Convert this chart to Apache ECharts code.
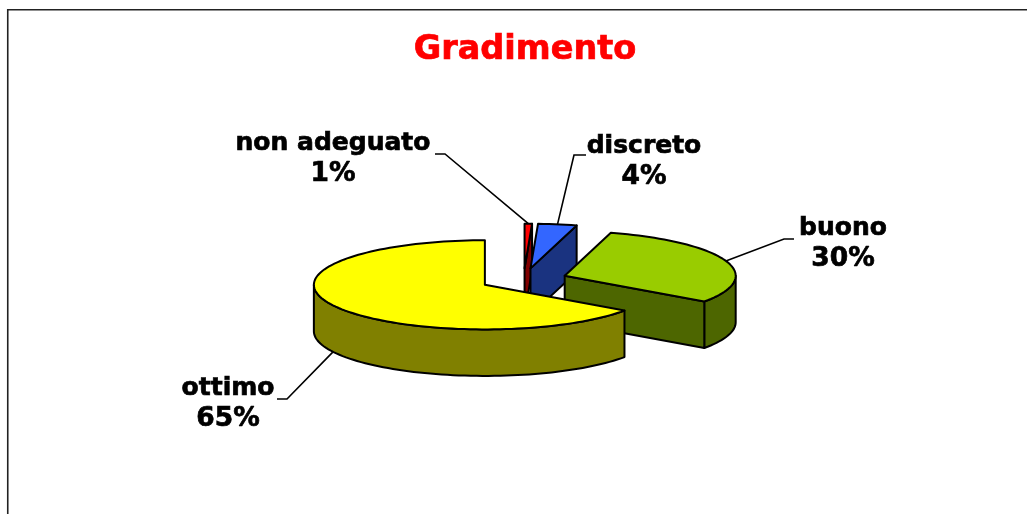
<!DOCTYPE html>
<html>
<head>
<meta charset="utf-8">
<style>html,body{margin:0;padding:0;background:#fff;overflow:hidden}#c{width:1027px;height:514px}</style>
<script src="https://cdn.jsdelivr.net/npm/echarts@6/dist/echarts.min.js"></script>
</head>
<body>
<div id="c"></div>
<script>
const categories = ['non adeguato', 'discreto', 'buono', 'ottimo'];
const shares = [0.7, 3.65, 30.45, 65.2];
const percentLabels = ['1%', '4%', '30%', '65%'];
const titleText = 'Gradimento';

const topColors = ['#FF0000', '#3366FF', '#99CC00', '#FFFF00'];
const wallColors = ['#800000', '#1A3380', '#4D6600', '#808000'];
const FONT = '"DejaVu Sans", Verdana, sans-serif';
const pie = { cx: 523.6, cy: 279.6, a: 171, b: 44.6, h: 46.5, explode: 43.6 };
// label layout: text centre and leader elbow
const labelLayout = [
  { x: 333, y1: 143, y2: 174, ex: 445, ey: 154, tx: 435 },
  { x: 644, y1: 146, y2: 177, ex: 574, ey: 155, tx: 586 },
  { x: 843, y1: 228, y2: 259, ex: 784, ey: 239, tx: 794 },
  { x: 228, y1: 388, y2: 419, ex: 287, ey: 399, tx: 277 }
];

const total = shares.reduce((s, v) => s + v, 0);
const rad = d => d * Math.PI / 180;

function renderSlice(params, api) {
  const i = params.dataIndex;
  let before = 0;
  for (let k = 0; k < i; k++) before += shares[k];
  const t0 = before / total * 360;
  const t1 = t0 + api.value(0) / total * 360;
  const mid = (t0 + t1) / 2;
  const ratio = pie.b / pie.a;
  const ox = pie.cx + pie.explode * Math.sin(rad(mid));
  const oy = pie.cy - pie.explode * ratio * Math.cos(rad(mid));
  const rim = (t, dz) => [ox + pie.a * Math.sin(rad(t)), oy - pie.b * Math.cos(rad(t)) + (dz || 0)];
  const stroke = { stroke: '#000', lineWidth: 2, lineJoin: 'round' };
  const children = [];

  // outer wall: only the part of the rim facing the viewer (90..270 degrees)
  const wa = Math.max(t0, 90), wb = Math.min(t1, 270);
  if (wb > wa) {
    const pts = [];
    const n = Math.ceil((wb - wa) / 2);
    for (let k = 0; k <= n; k++) pts.push(rim(wa + (wb - wa) * k / n));
    for (let k = n; k >= 0; k--) pts.push(rim(wa + (wb - wa) * k / n, pie.h));
    children.push({ type: 'polygon', shape: { points: pts }, style: { fill: wallColors[i], ...stroke } });
  }
  // closing cut face, visible when it looks towards the viewer
  if (t1 < 180) {
    const e = rim(t1);
    children.push({ type: 'polygon', shape: { points: [[ox, oy], e, [e[0], e[1] + pie.h], [ox, oy + pie.h]] },
      style: { fill: wallColors[i], ...stroke } });
  }
  // top face
  const top = [[ox, oy]];
  const m = Math.max(2, Math.ceil((t1 - t0) / 2));
  for (let k = 0; k <= m; k++) top.push(rim(t0 + (t1 - t0) * k / m));
  children.push({ type: 'polygon', shape: { points: top }, style: { fill: topColors[i], ...stroke } });

  // leader line and label
  const L = labelLayout[i];
  const mp = rim(mid, mid > 90 && mid < 270 ? pie.h : 0);
  children.push({ type: 'polyline', shape: { points: [[L.tx, L.ey], [L.ex, L.ey], mp] },
    style: { fill: null, stroke: '#000', lineWidth: 1.6 }, z2: 5 });
  const txt = (s, y, size) => ({ type: 'text', z2: 6, style: { text: s, x: L.x, y: y, align: 'center', verticalAlign: 'middle',
    font: 'bold ' + size + 'px ' + FONT, fill: '#000', stroke: '#000', lineWidth: 0.7 } });
  children.push(txt(api.value(1), L.y1, 25), txt(percentLabels[i], L.y2, 26.5));
  return { type: 'group', children };
}

const chart = echarts.init(document.getElementById('c'), null, { renderer: 'canvas' });
chart.setOption({
  animation: false,
  backgroundColor: '#fff',
  graphic: [{
    type: 'rect', silent: true, z: -1,
    shape: { x: 7.75, y: 9.75, width: 1200, height: 700 },
    style: { fill: null, stroke: '#222', lineWidth: 1.6 }
  }, {
    type: 'text', silent: true, z: 10,
    style: { text: titleText, x: 525, y: 50, align: 'center', verticalAlign: 'middle',
      font: 'bold 33.5px ' + FONT, fill: '#FF0000', stroke: '#FF0000', lineWidth: 0.7 }
  }],
  series: [{
    type: 'custom',
    coordinateSystem: 'none',
    silent: true,
    renderItem: renderSlice,
    dimensions: ['share', { name: 'category', type: 'ordinal' }],
    data: categories.map((c, i) => [shares[i], c])
  }]
});
</script>
</body>
</html>
